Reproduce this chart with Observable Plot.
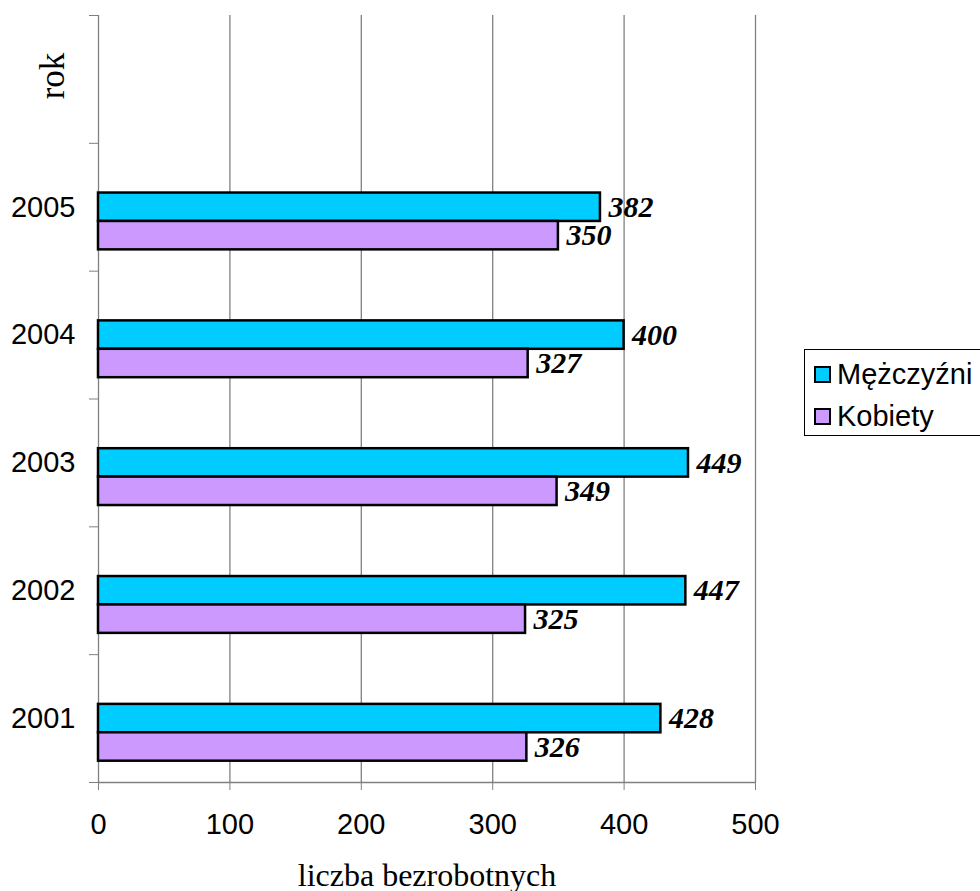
<!DOCTYPE html>
<html>
<head>
<meta charset="utf-8">
<script src="https://cdn.jsdelivr.net/npm/d3@7"></script>
<script src="https://cdn.jsdelivr.net/npm/@observablehq/plot@0.6"></script>
<style>
  html, body { margin: 0; padding: 0; background: #fff; overflow: hidden; }
  #wrap { position: relative; width: 980px; height: 891px; overflow: hidden; }
  #legend { position: absolute; left: 804px; top: 349px; width: 215px; height: 87px;
    border: 1px solid #000; box-sizing: border-box; background: #fff;
    font-family: "Liberation Sans", Arial, sans-serif; font-size: 29px; color: #000; }
  .item { position: absolute; left: 9px; display: flex; align-items: center; line-height: 1; }
  .sw { width: 13px; height: 13px; border: 2px solid #000; margin-right: 6px; }
  #ytitle { position: absolute; left: 51.5px; top: 76px; transform: translate(-50%, -50%) rotate(-90deg);
    font-family: "Liberation Serif", "Times New Roman", serif; font-size: 35px; line-height: 1; color: #000; white-space: nowrap; }
</style>
</head>
<body>
<div id="wrap"></div>
<script>
const years = [2001, 2002, 2003, 2004, 2005];
const men = [428, 447, 449, 400, 382];
const women = [326, 325, 349, 327, 350];
const seriesNames = ["Mężczyźni", "Kobiety"];
const seriesColors = ["#00CCFF", "#CC99FF"];
const xTicks = [0, 100, 200, 300, 400, 500];
const yBounds = [2000.5, 2001.5, 2002.5, 2003.5, 2004.5, 2005.5, 2006.5];
const xTitle = "liczba bezrobotnych";
const yTitle = "rok";

const rows = years.flatMap((yr, i) => [
  {year: yr, s: 0, value: men[i]},
  {year: yr, s: 1, value: women[i]}
]);
const barH = 1 / 4.5;
const barTop = d => d.year + barH / 2 - d.s * barH;
const barBot = d => barTop(d) - barH;

const chart = Plot.plot({
  width: 980, height: 891,
  marginLeft: 98, marginRight: 225, marginTop: 15, marginBottom: 109,
  x: {domain: [0, 500]},
  y: {domain: [2000.5, 2006.5]},
  color: {domain: seriesNames, range: seriesColors},
  style: {fontFamily: "Liberation Sans, Arial, sans-serif", fontSize: "28px", background: "#fff", color: "#000"},
  marks: [
    Plot.ruleX(xTicks.slice(1), {stroke: "#808080", strokeWidth: 1.3}),
    Plot.ruleX([0], {stroke: "#808080", strokeWidth: 1.3}),
    Plot.ruleY([2000.5], {stroke: "#808080", strokeWidth: 1.3}),
    Plot.rect(rows, {x1: 0, x2: "value", y1: barTop, y2: barBot,
      fill: d => seriesNames[d.s], stroke: "#000", strokeWidth: 2.5}),
    Plot.text(rows, {x: "value", y: d => (barTop(d) + barBot(d)) / 2, text: d => String(d.value),
      dx: 8, textAnchor: "start", fontFamily: "Liberation Serif, Times New Roman, serif",
      fontWeight: "bold", fontStyle: "italic", fontSize: 30, fill: "#000"}),
    Plot.axisX({ticks: xTicks, tickSize: 8, tickPadding: 23, stroke: "#808080", fill: "#000",
      tickFormat: d => String(d), label: null, fontSize: 29}),
    Plot.axisY({ticks: yBounds, tickSize: 9, tickFormat: () => "", stroke: "#808080", label: null}),
    Plot.axisY({ticks: years, tickSize: 0, tickPadding: 23, tickFormat: d => String(d),
      fill: "#000", label: null, fontSize: 29}),
    Plot.text([xTitle], {text: d => d, frameAnchor: "bottom", dy: 103, lineAnchor: "bottom",
      fontFamily: "Liberation Serif, Times New Roman, serif", fontSize: 32, fill: "#000"})
  ]
});
const wrap = document.getElementById("wrap");
wrap.appendChild(chart);

const yt = document.createElement("div");
yt.id = "ytitle";
yt.textContent = yTitle;
wrap.appendChild(yt);

const legend = document.createElement("div");
legend.id = "legend";
seriesNames.forEach((name, i) => {
  const it = document.createElement("div");
  it.className = "item";
  it.style.top = (i === 0 ? 10 : 52) + "px";
  const sw = document.createElement("span");
  sw.className = "sw";
  sw.style.background = seriesColors[i];
  const tx = document.createElement("span");
  tx.textContent = name;
  it.appendChild(sw); it.appendChild(tx);
  legend.appendChild(it);
});
wrap.appendChild(legend);
</script>
</body>
</html>
